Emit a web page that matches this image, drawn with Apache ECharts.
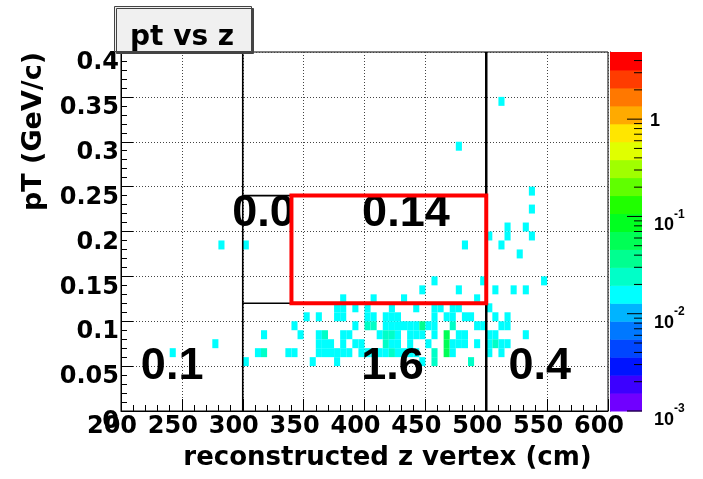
<!DOCTYPE html>
<html><head><meta charset="utf-8">
<script src="https://cdn.jsdelivr.net/npm/echarts@6/dist/echarts.min.js"></script>
<style>html,body{margin:0;padding:0;background:#fff}#c{width:703px;height:479px}</style>
</head><body><div id="c"></div>
<script>
// ---- histogram binning ----
const zBinWidth = 5;      // cm
const ptBinWidth = 0.01;  // GeV/c

// ---- filled bins: one entry per pT row (lower edge), z lower edges and contents ----
const ptRows = [0.05, 0.06, 0.07, 0.08, 0.09, 0.10, 0.11, 0.12, 0.13, 0.14, 0.17, 0.18, 0.19, 0.20, 0.22, 0.24, 0.29, 0.34];
const zRows = [
  [300, 355, 375, 445, 455, 485],
  [240, 310, 315, 335, 340, 360, 365, 370, 375, 380, 385, 395, 400, 405, 410, 415, 420, 425, 430, 435, 440, 455, 465, 470, 500, 510],
  [275, 360, 365, 370, 380, 390, 395, 415, 420, 425, 435, 450, 465, 470, 475, 480, 490, 500, 505, 510, 515],
  [315, 345, 360, 365, 380, 385, 410, 415, 420, 425, 435, 440, 445, 455, 465, 475, 480, 500, 505, 530],
  [340, 390, 400, 405, 415, 420, 425, 430, 435, 440, 445, 450, 455, 470, 490, 495, 510, 515],
  [350, 360, 375, 380, 400, 405, 415, 420, 425, 455, 465, 470, 480, 485, 505, 515],
  [375, 380, 390, 400, 420, 440, 455, 460, 470, 475, 500],
  [380, 405, 430, 490],
  [445, 475, 505, 520, 530],
  [455, 495, 545],
  [525],
  [280, 300, 480, 510],
  [500, 515, 535],
  [515, 530],
  [535],
  [535],
  [475],
  [510]
];
const wRows = [
  [0.014, 0.014, 0.014, 0.014, 0.028, 0.028],
  [0.014, 0.014, 0.028, 0.014, 0.014, 0.014, 0.014, 0.014, 0.014, 0.014, 0.014, 0.014, 0.014, 0.014, 0.014, 0.014, 0.028, 0.014, 0.014, 0.014, 0.014, 0.028, 0.057, 0.014, 0.014, 0.014],
  [0.014, 0.014, 0.014, 0.014, 0.014, 0.014, 0.014, 0.028, 0.014, 0.014, 0.014, 0.014, 0.057, 0.014, 0.014, 0.014, 0.014, 0.014, 0.028, 0.014, 0.014],
  [0.014, 0.014, 0.014, 0.028, 0.014, 0.014, 0.014, 0.028, 0.028, 0.014, 0.014, 0.014, 0.014, 0.014, 0.057, 0.014, 0.014, 0.014, 0.014, 0.014],
  [0.014, 0.014, 0.028, 0.028, 0.014, 0.014, 0.014, 0.014, 0.014, 0.014, 0.043, 0.014, 0.014, 0.028, 0.014, 0.014, 0.014, 0.014],
  [0.014, 0.014, 0.014, 0.014, 0.014, 0.014, 0.014, 0.014, 0.014, 0.014, 0.014, 0.014, 0.014, 0.014, 0.014, 0.014],
  [0.014, 0.014, 0.014, 0.014, 0.014, 0.014, 0.014, 0.014, 0.014, 0.014, 0.014],
  [0.014, 0.014, 0.014, 0.014],
  [0.014, 0.014, 0.014, 0.014, 0.014],
  [0.014, 0.014, 0.014],
  [0.014],
  [0.014, 0.014, 0.014, 0.014],
  [0.014, 0.014, 0.014],
  [0.014, 0.014],
  [0.014],
  [0.014],
  [0.014],
  [0.014]
];

// ---- colour scale (log z, 20 contours) ----
const colMin = 0.001, colMax = 4.9;
const paletteColors = ['#7000ff','#3c00ff','#0014ff','#0046ff','#0078ff','#00b4ff','#00ffff','#00ffc8','#00ff90','#00ff55',
                       '#00ff20','#20ff00','#60ff00','#a0ff00','#e0ff00','#ffe600','#ffaa00','#ff7800','#ff3c00','#ff0000'];
const paletteMajorTicks = [0.001, 0.01, 0.1, 1];
const paletteMinorTicks = [0.002,0.003,0.004,0.005,0.006,0.007,0.008,0.009,
                           0.02,0.03,0.04,0.05,0.06,0.07,0.08,0.09,
                           0.2,0.3,0.4,0.5,0.6,0.7,0.8,0.9, 2,3,4];

// ---- cut lines, signal box and region yields ----
const cutSegments = [[300, 0, 300, 0.4], [500, 0, 500, 0.4], [300, 0.12, 340, 0.12], [300, 0.24, 340, 0.24]];
const signalBox = [[340, 0.12, 500, 0.24]];
const regionLabel = ['0.1', '1.6', '0.4', '0.0', '0.14'];
const regionZ  = [242, 423, 544, 317, 434];
const regionPt = [0.05, 0.05, 0.05, 0.22, 0.22];

// ---- build ----
const cells = [];
ptRows.forEach((pt, r) => zRows[r].forEach((z, k) => {
  const w = wRows[r][k];
  cells.push([z, pt, w, Math.log10(w)]);
}));
const logMin = Math.log10(colMin), logMax = Math.log10(colMax);
const step = (logMax - logMin) / paletteColors.length;
const pieces = paletteColors.map((c, k) => ({gte: logMin + k * step, lt: logMin + (k + 1) * step, color: c}));
pieces[pieces.length - 1].lt = 99;
const bands = paletteColors.map((c, k) => [Math.pow(10, logMin + k * step), Math.pow(10, logMin + (k + 1) * step), k]);
const tickData = paletteMajorTicks.map(v => [v, 1]).concat(paletteMinorTicks.map(v => [v, 0]));
const regionData = regionLabel.map((t, k) => [regionZ[k], regionPt[k], k]);

const SANS = 'DejaVu Sans';
const ARIAL = 'Liberation Sans';

const chart = echarts.init(document.getElementById('c'), null, {renderer: 'canvas'});
chart.setOption({
  animation: false,
  backgroundColor: '#ffffff',
  title: {
    text: 'pt vs z', left: 114, top: 6, padding: [18, 18, 0, 16],
    backgroundColor: '#f0f0f0', borderColor: '#444', borderWidth: 1,
    shadowColor: '#444', shadowOffsetX: 2, shadowOffsetY: 2, shadowBlur: 0,
    textStyle: {fontFamily: SANS, fontSize: 28, fontWeight: 'bold', color: '#000'}
  },
  visualMap: {
    type: 'piecewise', show: false, dimension: 3, seriesIndex: 0, pieces: pieces
  },
  grid: [
    {left: 121, top: 52, width: 487, height: 359, show: true, borderColor: '#000', borderWidth: 1, backgroundColor: 'transparent', outerBoundsMode: 'none'},
    {left: 610, top: 52, width: 32, height: 359, outerBoundsMode: 'none'}
  ],
  xAxis: [
    {
      gridIndex: 0, type: 'value', min: 200, max: 600, interval: 50,
      axisLine: {lineStyle: {color: '#000', width: 1}},
      axisTick: {inside: true, length: 12, lineStyle: {color: '#000'}},
      minorTick: {show: true, splitNumber: 5, length: 6, lineStyle: {color: '#000'}},
      splitLine: {show: true, lineStyle: {color: '#444', type: [1, 2], width: 1}},
      axisLabel: {
        margin: 4, color: '#000',
        formatter: v => '{a|' + v + '}',
        rich: {a: {fontFamily: SANS, fontWeight: 'bold', fontSize: 24, color: '#000', padding: [0, 18, 0, 0]}}
      },
      name: 'reconstructed z vertex (cm)', nameLocation: 'middle', nameGap: 34, nameMoveOverlap: false,
      nameTextStyle: {fontFamily: SANS, fontWeight: 'bold', fontSize: 26, color: '#000', padding: [0, 0, 0, 46]}
    },
    {gridIndex: 1, type: 'value', min: 0, max: 1, show: false}
  ],
  yAxis: [
    {
      gridIndex: 0, type: 'value', min: 0, max: 0.4, interval: 0.05,
      axisLine: {lineStyle: {color: '#000', width: 1}},
      axisTick: {inside: true, length: 12, lineStyle: {color: '#000'}},
      minorTick: {show: true, splitNumber: 5, length: 6, lineStyle: {color: '#000'}},
      splitLine: {show: true, lineStyle: {color: '#444', type: [1, 2], width: 1}},
      axisLabel: {
        margin: 2, color: '#000',
        formatter: v => '{a|' + parseFloat(v.toFixed(2)) + '}',
        rich: {a: {fontFamily: SANS, fontWeight: 'bold', fontSize: 24, color: '#000', padding: [22, 0, 0, 0]}}
      },
      name: 'pT (GeV/c)', nameLocation: 'middle', nameGap: 74, nameMoveOverlap: false,
      nameTextStyle: {fontFamily: SANS, fontWeight: 'bold', fontSize: 27, color: '#000', padding: [0, 0, 0, 200]}
    },
    {
      gridIndex: 1, type: 'log', logBase: 10, min: colMin, max: colMax, position: 'right',
      axisLine: {show: true, lineStyle: {color: '#000', width: 1}},
      axisTick: {show: false}, minorTick: {show: false}, splitLine: {show: false},
      axisLabel: {
        margin: 8,
        formatter: v => {
          const e = Math.round(Math.log10(v));
          if (Math.abs(v / Math.pow(10, e) - 1) > 1e-6) return '';
          if (e === 0) return '{o|1}';
          return '{n|10}{s|' + e + '}';
        },
        rich: {
          o: {fontFamily: ARIAL, fontWeight: 'bold', fontSize: 18, color: '#000', padding: [4, 0, 0, 0]},
          n: {fontFamily: ARIAL, fontWeight: 'bold', fontSize: 18, color: '#000', padding: [18, 0, 0, 4]},
          s: {fontFamily: ARIAL, fontWeight: 'bold', fontSize: 12, color: '#000', verticalAlign: 'top', padding: [10, 0, 0, 0]}
        }
      }
    }
  ],
  series: [
    {
      type: 'custom', name: 'pt vs z', xAxisIndex: 0, yAxisIndex: 0, data: cells, z: 1, clip: true,
      dimensions: ['z', 'pt', 'w', 'logw'], encode: {x: 0, y: 1},
      renderItem: (params, api) => {
        const z = api.value(0), pt = api.value(1);
        const a = api.coord([z, pt + ptBinWidth]);
        const b = api.coord([z + zBinWidth, pt]);
        return {type: 'rect', shape: {x: a[0], y: a[1], width: b[0] - a[0], height: b[1] - a[1]},
                style: {fill: api.visual('color')}};
      }
    },
    {
      type: 'custom', name: 'cuts', xAxisIndex: 0, yAxisIndex: 0, data: cutSegments, z: 3, silent: true,
      renderItem: (params, api) => {
        const p = api.coord([api.value(0), api.value(1)]);
        const q = api.coord([api.value(2), api.value(3)]);
        return {type: 'line', shape: {x1: p[0], y1: p[1], x2: q[0], y2: q[1]},
                style: {stroke: '#000', lineWidth: params.dataIndex === 1 ? 2.5 : 1.6}};
      }
    },
    {
      type: 'custom', name: 'yields', xAxisIndex: 0, yAxisIndex: 0, data: regionData, z: 4, silent: true,
      renderItem: (params, api) => {
        const p = api.coord([api.value(0), api.value(1)]);
        return {type: 'text', x: p[0], y: p[1],
                style: {text: regionLabel[params.dataIndex], fill: '#000', font: 'bold 45px "Liberation Sans"',
                        align: 'center', verticalAlign: 'middle'}};
      }
    },
    {
      type: 'custom', name: 'signal box', xAxisIndex: 0, yAxisIndex: 0, data: signalBox, z: 5, silent: true,
      renderItem: (params, api) => {
        const p = api.coord([api.value(0), api.value(3)]);
        const q = api.coord([api.value(2), api.value(1)]);
        return {type: 'rect', shape: {x: p[0], y: p[1], width: q[0] - p[0], height: q[1] - p[1]},
                style: {fill: 'none', stroke: '#ff0000', lineWidth: 4}};
      }
    },
    {
      type: 'custom', name: 'palette', xAxisIndex: 1, yAxisIndex: 1, data: bands, silent: true,
      renderItem: (params, api) => {
        const p = api.coord([0, api.value(1)]);
        const q = api.coord([1, api.value(0)]);
        return {type: 'rect', shape: {x: p[0], y: p[1], width: q[0] - p[0], height: q[1] - p[1] + 0.5},
                style: {fill: paletteColors[api.value(2)]}};
      }
    },
    {
      type: 'custom', name: 'palette ticks', xAxisIndex: 1, yAxisIndex: 1, data: tickData, z: 3, silent: true,
      renderItem: (params, api) => {
        const p = api.coord([1, api.value(0)]);
        const len = api.value(1) ? 15 : 8;
        return {type: 'line', shape: {x1: p[0] - len, y1: p[1], x2: p[0], y2: p[1]},
                style: {stroke: '#000', lineWidth: 1}};
      }
    }
  ]
});
</script>
</body></html>
